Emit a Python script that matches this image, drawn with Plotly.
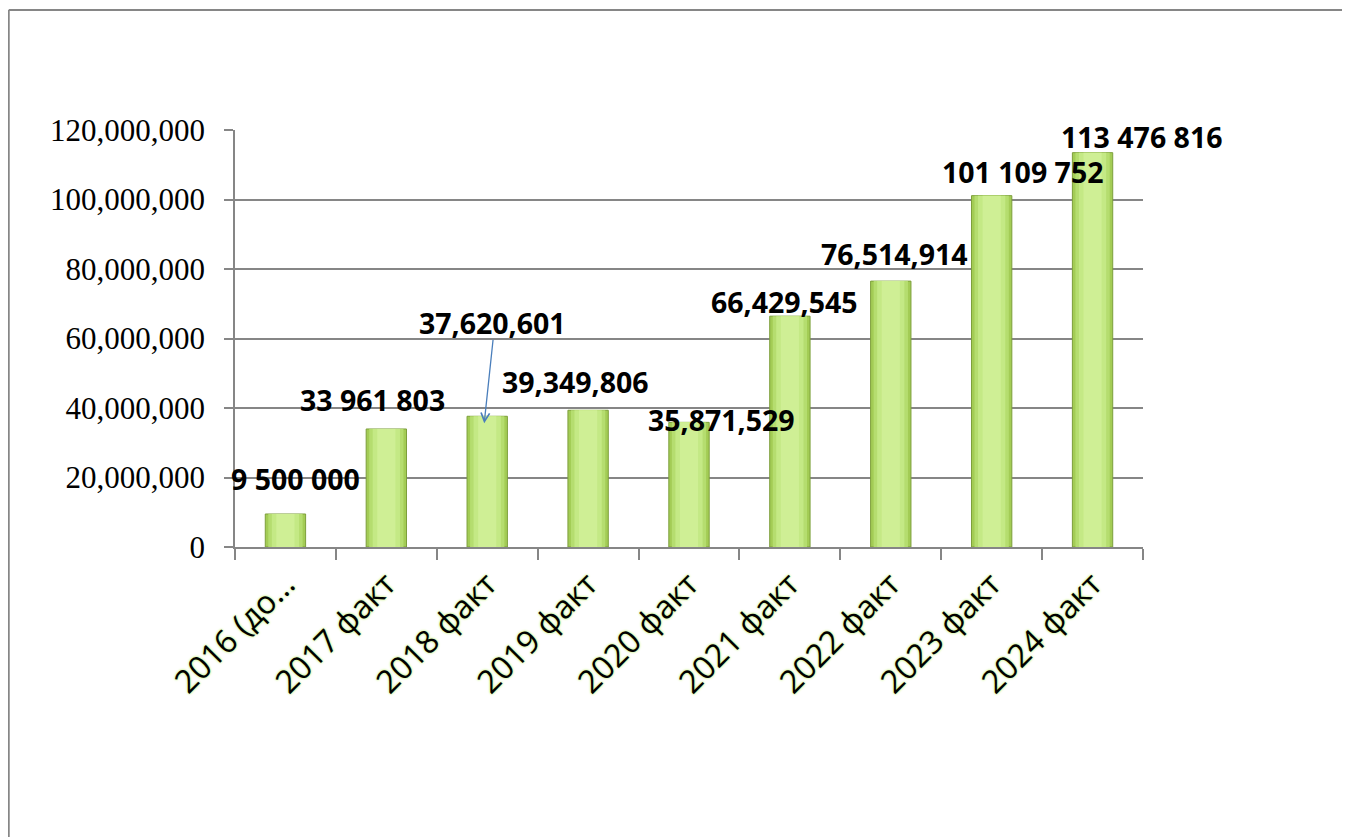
import plotly.graph_objects as go

categories = ["2016 (до…", "2017 факт", "2018 факт", "2019 факт", "2020 факт",
              "2021 факт", "2022 факт", "2023 факт", "2024 факт"]
values = [9500000, 33961803, 37620601, 39349806, 35871529,
          66429545, 76514914, 101109752, 113476816]
value_labels = ["9 500 000", "33 961 803", "37,620,601", "39,349,806", "35,871,529",
                "66,429,545", "76,514,914", "101 109 752", "113 476 816"]
y_ticks = [0, 20000000, 40000000, 60000000, 80000000, 100000000, 120000000]

# label offsets (px) relative to bar tops
label_dx = [10, -14, 5, -13, 32, -5, 4, 31, 49]
label_dy = [35, 29, 93, 28, 2, 14, 27, 24, 16]

fig = go.Figure()
fig.add_trace(go.Bar(x=categories, y=values, width=0.4,
                     marker=dict(color="#a3cc55", line=dict(color="#7d9f3b", width=1)),
                     hoverinfo="skip"))
fig.add_trace(go.Bar(x=categories, y=values, width=0.34,
                     marker=dict(color="#b5dd6f", line=dict(width=0)),
                     hoverinfo="skip"))
fig.add_trace(go.Bar(x=categories, y=values, width=0.27,
                     marker=dict(color="#c4e985", line=dict(width=0)),
                     hoverinfo="skip"))
fig.add_trace(go.Bar(x=categories, y=values, width=0.18,
                     marker=dict(color="#cfef95", line=dict(width=0)),
                     hoverinfo="skip"))

for c, v, t, dx, dy in zip(categories, values, value_labels, label_dx, label_dy):
    fig.add_annotation(x=c, y=v, text=t, showarrow=False, xanchor="center", yanchor="middle",
                       xshift=dx, yshift=dy,
                       font=dict(family="Open Sans", size=28.5, color="black", weight="bold"))

# arrow for 2018
fig.add_annotation(x=categories[2], y=values[2], text="", showarrow=True,
                   xshift=-3, yshift=-7, ax=9, ay=-85, arrowhead=5, arrowsize=1.3,
                   arrowwidth=1.3, arrowcolor="#4a7ebb")

# outer frame (top and left edges only visible in the picture)
fig.add_shape(type="line", xref="paper", yref="paper", x0=-0.2492, x1=1.25, y0=1.2878, y1=1.2878,
              line=dict(color="#868686", width=2), layer="below")
fig.add_shape(type="line", xref="paper", yref="paper", x0=-0.2492, x1=-0.2492, y0=-0.75, y1=1.2878,
              line=dict(color="#868686", width=2), layer="below")

fig.update_layout(
    width=1342, height=829,
    margin=dict(l=227, r=207, t=122, b=290),
    paper_bgcolor="white", plot_bgcolor="white",
    barmode="overlay", showlegend=False,
    xaxis=dict(range=[-0.5, 8.5], autorange=False,
               showline=True, linecolor="#868686", linewidth=1.5, ticks="outside",
               ticklen=11, tickcolor="#868686", tickwidth=1.5, tickson="boundaries",
               tickangle=-45, showgrid=False,
               tickfont=dict(family="Open Sans", size=32, color="black",
                             shadow="0px 0px 3px #cdf28f, 0px 0px 2px #cdf28f"),
               ticklabelstandoff=4),
    yaxis=dict(range=[0, 120000000], autorange=False, tickvals=y_ticks, tickformat=",d",
               showline=True, linecolor="#868686", linewidth=1.5, ticks="outside",
               ticklen=9, tickcolor="#868686", tickwidth=1.5,
               showgrid=True, gridcolor="#868686", gridwidth=1.5, zeroline=False,
               tickfont=dict(family="Liberation Serif", size=31, color="black"),
               ticklabelstandoff=13),
)

fig.write_html("out.html", config={"displayModeBar": False})
